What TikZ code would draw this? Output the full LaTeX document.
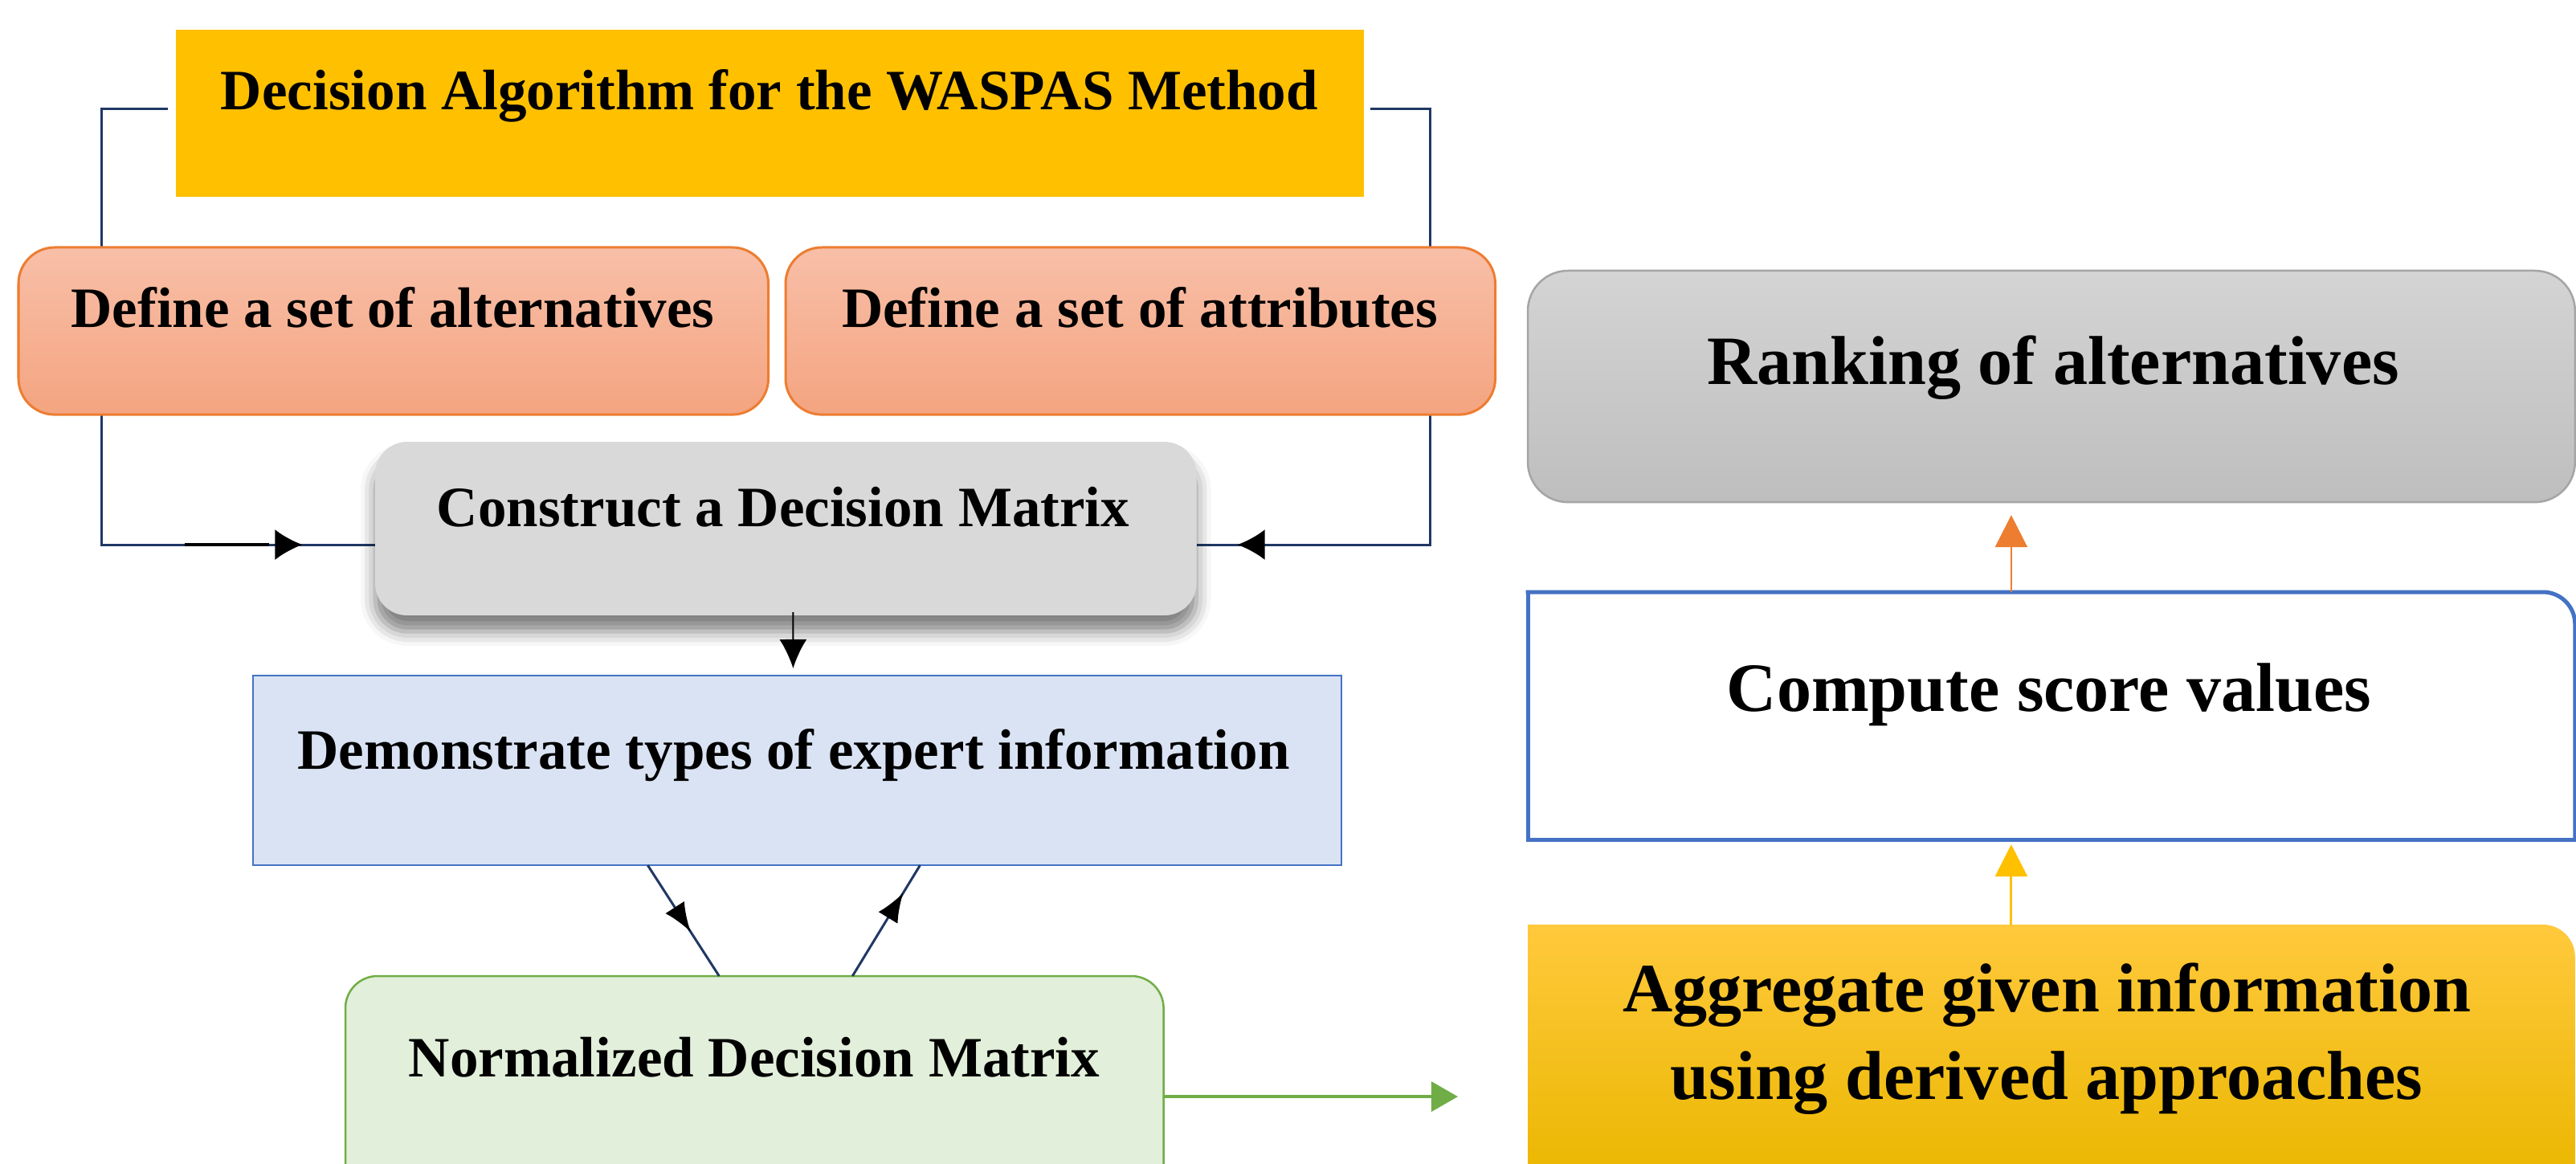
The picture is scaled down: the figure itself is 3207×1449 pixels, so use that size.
\documentclass[tikz,border=0pt]{standalone}
\usepackage{fontspec}
\setmainfont{Liberation Serif}
\usetikzlibrary{arrows.meta,calc,shadows.blur,decorations.markings}
\definecolor{navy}{HTML}{203864}
\definecolor{titlefill}{HTML}{FFC000}
\definecolor{orline}{HTML}{ED7D31}
\definecolor{saltop}{HTML}{F8BFA8}
\definecolor{salbot}{HTML}{F4A480}
\definecolor{congray}{HTML}{D9D9D9}
\definecolor{demofill}{HTML}{DAE3F3}
\definecolor{blueline}{HTML}{4472C4}
\definecolor{normfill}{HTML}{E2EFDA}
\definecolor{greenline}{HTML}{70AD47}
\definecolor{ranktop}{HTML}{D4D4D4}
\definecolor{rankbot}{HTML}{BEBEBE}
\definecolor{rankline}{HTML}{A5A5A5}
\definecolor{aggtop}{HTML}{FFC93C}
\definecolor{aggbot}{HTML}{EAB700}
\pgfdeclarelayer{bg}
\pgfsetlayers{bg,main}
\begin{document}
\begin{tikzpicture}[x=0.01cm,y=-0.01cm,
  box/.style={anchor=north west, inner sep=0pt, outer sep=0pt},
  txt/.style={font=\bfseries\fontsize{20.2pt}{24pt}\selectfont, anchor=base, inner sep=0pt},
  txtbig/.style={font=\bfseries\fontsize{24.5pt}{30pt}\selectfont, anchor=base, inner sep=0pt},
  navyline/.style={draw=navy, line width=0.03cm},
  midarrow/.style={postaction={decorate}, decoration={markings, mark=at position #1 with {\arrow{Latex[length=0.34cm,width=0.38cm,color=black]}}}},
  midarrowsmall/.style={postaction={decorate}, decoration={markings, mark=at position #1 with {\arrow{Latex[length=0.36cm,width=0.28cm,color=black]}}}}
]
\useasboundingbox (0,0) rectangle (3207,1449);
\clip (0,0) rectangle (3207,1449);

% boxes
\node[box, fill=titlefill, minimum width=14.78cm, minimum height=2.08cm] (title) at (219,37) {};
\node[box, rounded corners=0.45cm, draw=orline, line width=0.03cm, top color=saltop, bottom color=salbot, minimum width=9.33cm, minimum height=2.08cm] (alt) at (23,308) {};
\node[box, rounded corners=0.45cm, draw=orline, line width=0.03cm, top color=saltop, bottom color=salbot, minimum width=8.83cm, minimum height=2.08cm] (attr) at (978,308) {};
\node[box, rounded corners=0.4cm, fill=congray, blur shadow={shadow xshift=0cm, shadow yshift=-0.2cm, shadow blur radius=0.18cm, shadow opacity=50}, minimum width=10.22cm, minimum height=2.16cm] (con) at (467,550) {};
\node[box, fill=demofill, draw=blueline, line width=0.025cm, minimum width=13.54cm, minimum height=2.36cm] (demo) at (315,841) {};
\node[box, rounded corners=0.4cm, fill=normfill, draw=greenline, line width=0.025cm, minimum width=10.18cm, minimum height=3.0cm] (norm) at (430,1215) {};
\node[box, rounded corners=0.5cm, top color=ranktop, bottom color=rankbot, draw=rankline, line width=0.025cm, minimum width=13.03cm, minimum height=2.88cm] (rank) at (1902,337) {};
\node[box, minimum width=13.03cm, minimum height=3.08cm] (cmp) at (1902,737) {};
\node[box, minimum width=13.03cm, minimum height=3.2cm] (agg) at (1902,1151) {};

% compute box border (square left corners, rounded top right)
\draw[draw=blueline, line width=0.05cm, line cap=rect] (cmp.north west) -- (cmp.south west) -- (cmp.south east);
\draw[draw=blueline, line width=0.05cm, line cap=rect] (cmp.north west) -- ([xshift=-0.4cm]cmp.north east) arc[start angle=90, end angle=0, radius=0.4cm] -- (cmp.south east);

% aggregate box fill
\shade[top color=aggtop, bottom color=aggbot] (agg.south west) -- (agg.north west) -- ([xshift=-0.4cm]agg.north east) arc[start angle=90, end angle=0, radius=0.4cm] -- (agg.south east) -- cycle;

% texts
\node[txt] (ttitle) at (958,137) {Decision Algorithm for the WASPAS Method};
\node[txt] (talt) at (489,408) {Define a set of alternatives};
\node[txt] (tattr) at (1419,408) {Define a set of attributes};
\node[txt] (tcon) at (975,655) {Construct a Decision Matrix};
\node[txt] (tdemo) at (988,957) {Demonstrate types of expert information};
\node[txt] (tnorm) at (939,1340) {Normalized Decision Matrix};
\node[txtbig] (trank) at (2556,478) {Ranking of alternatives};
\node[txtbig] (tcmp) at (2551,885) {Compute score values};
\node[txtbig] (tagg1) at (2548,1259) {Aggregate given information};
\node[txtbig] (tagg2) at (2548,1368) {using derived approaches};

% bracket connectors behind boxes
\coordinate (tl) at (209,136);
\coordinate (tr) at (1706,136);
\coordinate (dupa) at (230,678);
\coordinate (dupb) at (335,678);
\begin{pgfonlayer}{bg}
\draw[navyline, midarrow=8.75cm] (tl) -- (126,136) |- ($(con.west)+(0,20)$);
\draw[navyline, midarrow=8.55cm] (tr) -- (1780,136) |- ($(con.east)+(0,20)$);
\draw[black, line width=0.045cm] (dupa) -- (dupb);
\end{pgfonlayer}

% other connectors
\draw[black, line width=0.02cm, -{Latex[length=0.36cm,width=0.34cm]}] ($(con.south)+(9,-4)$) -- ($(demo.north)+(-5,-9)$);
\draw[navyline, midarrowsmall=0.6] ($(demo.south)+(-186,0)$) -- ($(norm.north)+(-44,0)$);
\draw[navyline, midarrowsmall=0.75] ($(norm.north)+(122,0)$) -- ($(demo.south)+(153,0)$);
\draw[greenline, line width=0.035cm, -{Triangle[length=0.33cm,width=0.37cm]}, shorten >=0.87cm] (norm.east) -- (norm.east -| agg.west);
\draw[orline, line width=0.025cm, -{Triangle[length=0.4cm,width=0.4cm]}] ($(cmp.north)+(-50,0)$) -- ($(rank.south)+(-50,16)$);
\draw[titlefill, line width=0.03cm, -{Triangle[length=0.4cm,width=0.4cm]}] ($(agg.north)+(-50,0)$) -- ($(cmp.south)+(-50,6)$);
\end{tikzpicture}
\end{document}
